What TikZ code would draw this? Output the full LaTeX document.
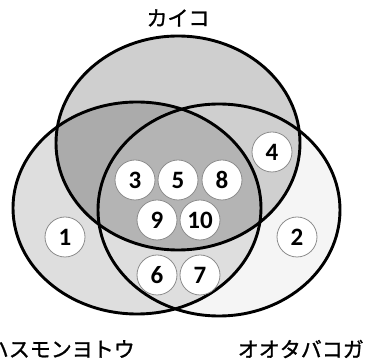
\documentclass[tikz,border=0pt]{standalone}
\usepackage{fontspec}
\newfontfamily\jp{Noto Sans CJK JP}[FakeBold=1.2]
\newfontfamily\num{Carlito}[BoldFont={Carlito Bold}]
\definecolor{cTop}{HTML}{CFCFCF}
\definecolor{cLeft}{HTML}{DEDEDE}
\definecolor{cRight}{HTML}{F5F5F5}
\definecolor{cTL}{HTML}{ABABAB}
\definecolor{cAll}{HTML}{B4B4B4}
\begin{document}
\begin{tikzpicture}[x=1pt,y=-1pt,
  ring/.style={draw=black,line width=2.9pt},
  spot/.style={circle,draw=gray!90,line width=0.8pt,fill=white,minimum size=40pt,inner sep=0pt,font=\num\bfseries\fontsize{25}{25}\selectfont},
  lbl/.style={font=\jp\fontsize{21}{21}\selectfont,inner sep=0pt}]
\useasboundingbox (0,0) rectangle (365,363);
\def\topE{(178,143) ellipse [x radius=122,y radius=107]}
\def\leftE{(137,208) ellipse [x radius=124,y radius=106]}
\def\rightE{(219,210) ellipse [x radius=121,y radius=106]}
\fill[cRight] \rightE;
\fill[cLeft] \leftE;
\fill[cTop] \topE;
\begin{scope}
  \clip \topE;
  \fill[cTL] \leftE;
  \clip \leftE;
  \fill[cAll] \rightE;
\end{scope}
\draw[ring] \topE;
\draw[ring] \leftE;
\draw[ring] \rightE;
\node[spot] (n1) at (65,237) {1};
\node[spot] (n2) at (297,237) {2};
\node[spot] (n3) at (135,180) {3};
\node[spot] (n4) at (272,152) {4};
\node[spot] (n5) at (178,180) {5};
\node[spot] (n8) at (222,180) {8};
\node[spot] (n9) at (157,220) {9};
\node[spot] (n10) at (200,220) {10};
\node[spot] (n6) at (157,275) {6};
\node[spot] (n7) at (200,275) {7};
\node[lbl] (kaiko) at (178,18) {カイコ};
\node[lbl,anchor=east] (hasu) at (135,349) {ハスモンヨトウ};
\node[lbl,anchor=east] (oota) at (364,349) {オオタバコガ};
\end{tikzpicture}
\end{document}
